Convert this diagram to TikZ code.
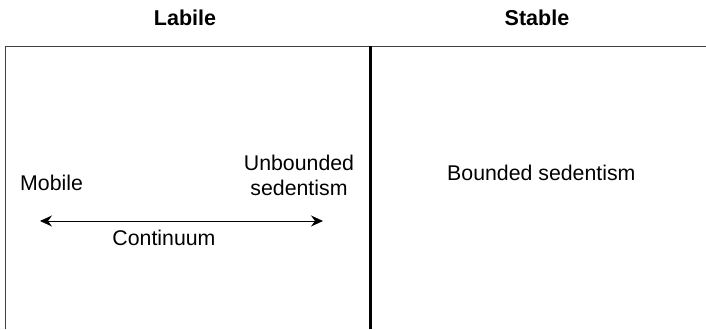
\documentclass[tikz,border=0pt]{standalone}
\usepackage{fontspec}
\setmainfont{Liberation Sans}
\usetikzlibrary{arrows.meta}
\begin{document}
\begin{tikzpicture}[x=1pt,y=-1pt,
  title/.style={font=\fontsize{21.5}{26}\selectfont\bfseries, inner sep=0pt, anchor=base},
  label/.style={font=\fontsize{21.3}{25}\selectfont, inner sep=0pt},
  frame/.style={draw=black!75, line width=1.5pt},
  divider/.style={draw=black, line width=3pt},
  span/.style={draw=black, line width=1pt,
    {Stealth[length=12pt,width=11pt,inset=4pt]}-{Stealth[length=12pt,width=11pt,inset=4pt]}}]
  \useasboundingbox (0,0) rectangle (706,329);
  % column headings
  \node[title] (labile) at (185,26) {Labile};
  \node[title] (stable) at (537,26) {Stable};
  % open frame and the column divider
  \draw[frame] (5.5,329) -- (5.5,46.5) -- (706,46.5);
  \draw[divider] (370,46.5) -- (370,329);
  % left column: the mobility continuum
  \node[label, anchor=base west] (mobile) at (20,190) {Mobile};
  \node[label, anchor=north, align=center] (unbounded) at (299,155) {Unbounded\\sedentism};
  \coordinate (cl) at (40,221);
  \coordinate (cr) at (323,221);
  \draw[span] (cl) -- (cr);
  \node[label, anchor=base] (continuum) at (164,245) {Continuum};
  % right column
  \node[label, anchor=base west] (bounded) at (447,180) {Bounded sedentism};
\end{tikzpicture}
\end{document}
